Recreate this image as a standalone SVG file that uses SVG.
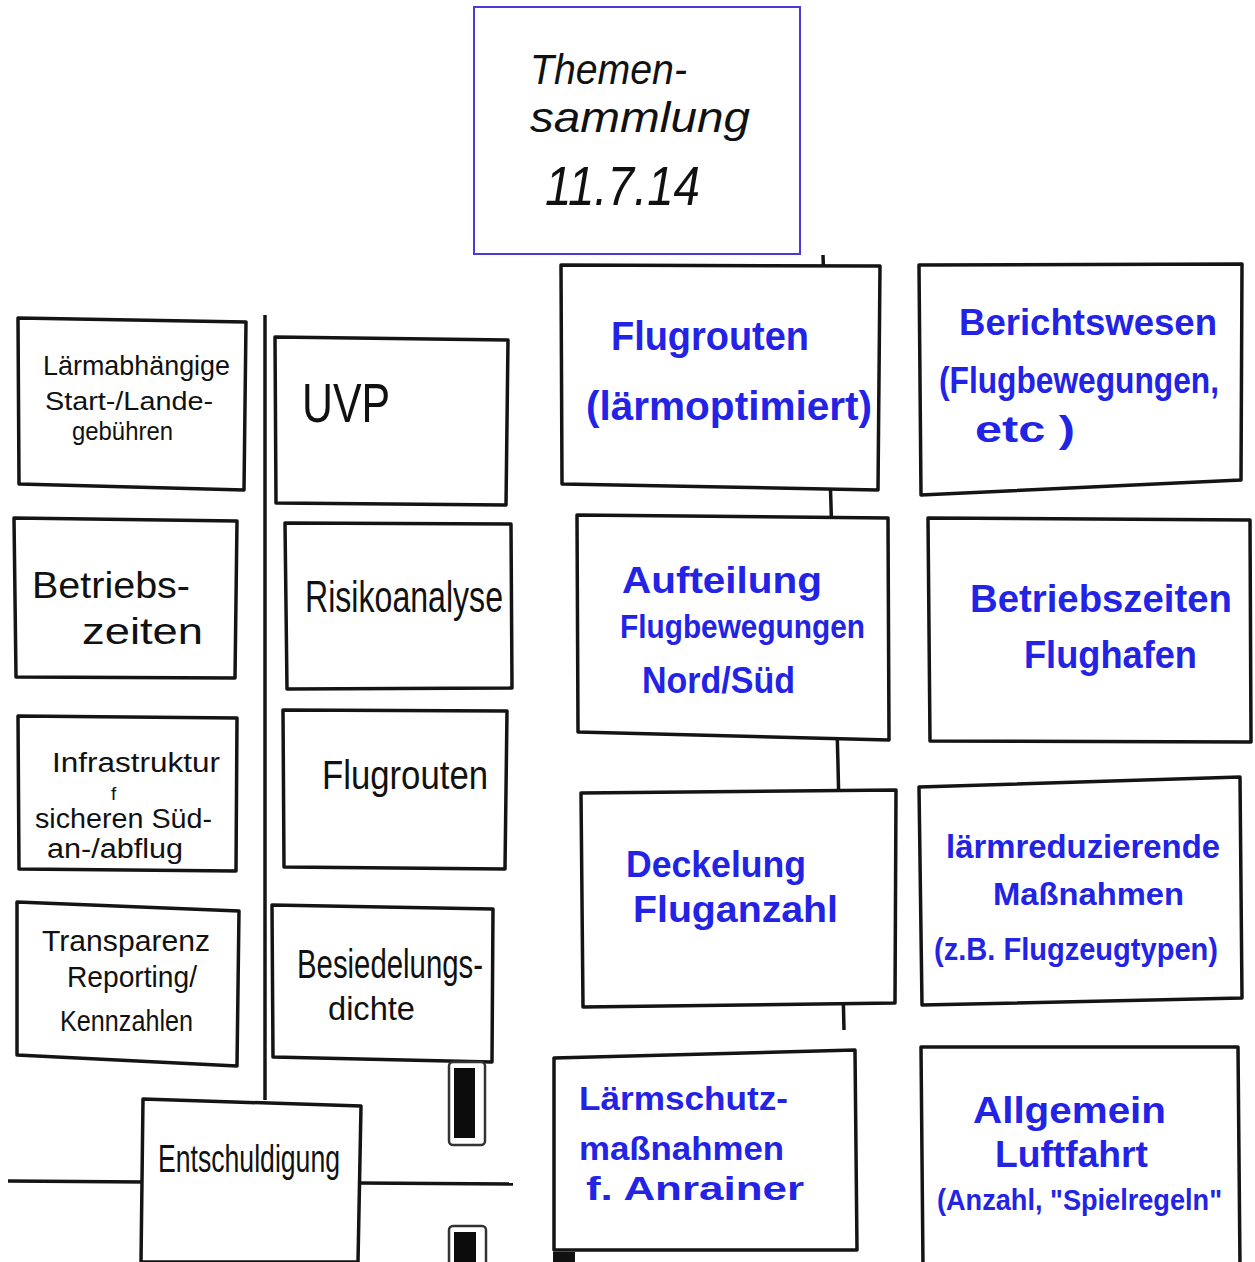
<svg xmlns="http://www.w3.org/2000/svg" width="1255" height="1262" viewBox="0 0 1255 1262">
<style>
.card{fill:#fff;stroke:#141414;stroke-width:3.5;stroke-linejoin:round}
.title{fill:#fff;stroke:#4a3bd8;stroke-width:2}
.con{fill:none;stroke:#141414;stroke-width:3.5}
.k{font-family:"Liberation Sans",Arial,sans-serif;fill:#111}
.b{font-family:"Liberation Sans",Arial,sans-serif;fill:#2323e6;font-weight:bold}
.clip{fill:#fff;stroke:#333;stroke-width:2.5}
</style>
<rect width="1255" height="1262" fill="#fff"/>
<g id="connectors">
<line class="con" x1="265" y1="315" x2="265" y2="1100"/>
<line class="con" x1="8" y1="1181" x2="145" y2="1182"/>
<line class="con" x1="358" y1="1183" x2="513" y2="1184"/>
<polyline class="con" points="823,255 831,505 838,765 844,1030"/>
</g>
<g id="title">
<rect class="title" x="474" y="7" width="326" height="247"/>
<text class="k" font-size="42" font-style="italic" x="530" y="84" textLength="157" lengthAdjust="spacingAndGlyphs">Themen-</text>
<text class="k" font-size="42" font-style="italic" x="530" y="132" textLength="220" lengthAdjust="spacingAndGlyphs">sammlung</text>
<text class="k" font-size="56" font-style="italic" x="545" y="205" textLength="155" lengthAdjust="spacingAndGlyphs">11.7.14</text>
</g>
<g id="n-laermabhaengige">
<polygon class="card" points="18,318 246,322 244,490 19,484"/>
<text class="k" font-size="28" x="43" y="375" textLength="187" lengthAdjust="spacingAndGlyphs">Lärmabhängige</text>
<text class="k" font-size="26" x="45" y="410" textLength="168" lengthAdjust="spacingAndGlyphs">Start-/Lande-</text>
<text class="k" font-size="26" x="72" y="440" textLength="101" lengthAdjust="spacingAndGlyphs">gebühren</text>
</g>
<g id="n-betriebszeiten">
<polygon class="card" points="14,518 237,521 235,678 16,677"/>
<text class="k" font-size="36" x="32" y="598" textLength="158" lengthAdjust="spacingAndGlyphs">Betriebs-</text>
<text class="k" font-size="36" x="82" y="644" textLength="121" lengthAdjust="spacingAndGlyphs">zeiten</text>
</g>
<g id="n-infrastruktur">
<polygon class="card" points="18,716 237,718 236,871 19,869"/>
<text class="k" font-size="27" x="52" y="772" textLength="168" lengthAdjust="spacingAndGlyphs">Infrastruktur</text>
<text class="k" font-size="19" x="111" y="800">f</text>
<text class="k" font-size="27" x="35" y="828" textLength="177" lengthAdjust="spacingAndGlyphs">sicheren Süd-</text>
<text class="k" font-size="27" x="47" y="858" textLength="136" lengthAdjust="spacingAndGlyphs">an-/abflug</text>
</g>
<g id="n-transparenz">
<polygon class="card" points="17,902 239,911 237,1066 17,1055"/>
<text class="k" font-size="30" x="42" y="951" textLength="168" lengthAdjust="spacingAndGlyphs">Transparenz</text>
<text class="k" font-size="30" x="67" y="987" textLength="130" lengthAdjust="spacingAndGlyphs">Reporting/</text>
<text class="k" font-size="30" x="60" y="1031" textLength="133" lengthAdjust="spacingAndGlyphs">Kennzahlen</text>
</g>
<g id="n-uvp">
<polygon class="card" points="275,337 508,340 506,505 276,503"/>
<text class="k" font-size="56" x="302" y="422" textLength="88" lengthAdjust="spacingAndGlyphs">UVP</text>
</g>
<g id="n-risikoanalyse">
<polygon class="card" points="285,523 511,524 512,688 287,689"/>
<text class="k" font-size="44" x="305" y="612" textLength="198" lengthAdjust="spacingAndGlyphs">Risikoanalyse</text>
</g>
<g id="n-flugrouten-links">
<polygon class="card" points="283,710 507,711 505,869 284,867"/>
<text class="k" font-size="40" x="322" y="789" textLength="166" lengthAdjust="spacingAndGlyphs">Flugrouten</text>
</g>
<g id="n-besiedelungsdichte">
<polygon class="card" points="272,905 493,909 492,1062 273,1057"/>
<text class="k" font-size="40" x="297" y="978" textLength="186" lengthAdjust="spacingAndGlyphs">Besiedelungs-</text>
<text class="k" font-size="34" x="328" y="1020" textLength="87" lengthAdjust="spacingAndGlyphs">dichte</text>
</g>
<g id="n-entschuldigung">
<polygon class="card" points="143,1099 361,1106 358,1262 141,1262"/>
<text class="k" font-size="38" x="158" y="1172" textLength="182" lengthAdjust="spacingAndGlyphs">Entschuldigung</text>
</g>
<g id="clips">
<rect class="clip" x="449" y="1062" width="36" height="83" rx="4"/>
<rect x="454" y="1068" width="21" height="70" fill="#0c0c0c"/>
<rect class="clip" x="449" y="1226" width="37" height="40" rx="4"/>
<rect x="454" y="1232" width="22" height="32" fill="#0c0c0c"/>
<rect x="553" y="1252" width="22" height="10" fill="#111"/>
</g>
<g id="n-flugrouten-laermoptimiert">
<polygon class="card" points="561,265 880,266 878,490 562,484"/>
<text class="b" font-size="40" x="611" y="350" textLength="198" lengthAdjust="spacingAndGlyphs">Flugrouten</text>
<text class="b" font-size="40" x="586" y="420" textLength="286" lengthAdjust="spacingAndGlyphs">(lärmoptimiert)</text>
</g>
<g id="n-berichtswesen">
<polygon class="card" points="919,265 1242,264 1241,480 921,495"/>
<text class="b" font-size="36" x="959" y="335" textLength="258" lengthAdjust="spacingAndGlyphs">Berichtswesen</text>
<text class="b" font-size="36" x="939" y="393" textLength="280" lengthAdjust="spacingAndGlyphs">(Flugbewegungen,</text>
<text class="b" font-size="36" x="975" y="442" textLength="100" lengthAdjust="spacingAndGlyphs">etc )</text>
</g>
<g id="n-aufteilung">
<polygon class="card" points="577,515 888,518 889,740 578,732"/>
<text class="b" font-size="36" x="622" y="593" textLength="200" lengthAdjust="spacingAndGlyphs">Aufteilung</text>
<text class="b" font-size="34" x="620" y="638" textLength="245" lengthAdjust="spacingAndGlyphs">Flugbewegungen</text>
<text class="b" font-size="36" x="642" y="693" textLength="153" lengthAdjust="spacingAndGlyphs">Nord/Süd</text>
</g>
<g id="n-betriebszeiten-flughafen">
<polygon class="card" points="928,518 1250,520 1251,742 930,741"/>
<text class="b" font-size="38" x="970" y="612" textLength="262" lengthAdjust="spacingAndGlyphs">Betriebszeiten</text>
<text class="b" font-size="38" x="1024" y="668" textLength="173" lengthAdjust="spacingAndGlyphs">Flughafen</text>
</g>
<g id="n-deckelung">
<polygon class="card" points="581,793 896,790 895,1003 583,1007"/>
<text class="b" font-size="36" x="626" y="877" textLength="180" lengthAdjust="spacingAndGlyphs">Deckelung</text>
<text class="b" font-size="36" x="633" y="922" textLength="205" lengthAdjust="spacingAndGlyphs">Fluganzahl</text>
</g>
<g id="n-laermreduzierende">
<polygon class="card" points="919,787 1240,777 1242,998 922,1005"/>
<text class="b" font-size="34" x="946" y="858" textLength="274" lengthAdjust="spacingAndGlyphs">lärmreduzierende</text>
<text class="b" font-size="32" x="993" y="905" textLength="191" lengthAdjust="spacingAndGlyphs">Maßnahmen</text>
<text class="b" font-size="32" x="934" y="960" textLength="284" lengthAdjust="spacingAndGlyphs">(z.B. Flugzeugtypen)</text>
</g>
<g id="n-laermschutz">
<polygon class="card" points="554,1058 855,1050 857,1250 554,1250"/>
<text class="b" font-size="34" x="579" y="1110" textLength="209" lengthAdjust="spacingAndGlyphs">Lärmschutz-</text>
<text class="b" font-size="34" x="579" y="1160" textLength="205" lengthAdjust="spacingAndGlyphs">maßnahmen</text>
<text class="b" font-size="34" x="586" y="1200" textLength="218" lengthAdjust="spacingAndGlyphs">f. Anrainer</text>
</g>
<g id="n-allgemein-luftfahrt">
<polygon class="card" points="921,1047 1238,1047 1240,1266 923,1266"/>
<text class="b" font-size="36" x="973" y="1123" textLength="193" lengthAdjust="spacingAndGlyphs">Allgemein</text>
<text class="b" font-size="36" x="995" y="1167" textLength="153" lengthAdjust="spacingAndGlyphs">Luftfahrt</text>
<text class="b" font-size="30" x="937" y="1210" textLength="285" lengthAdjust="spacingAndGlyphs">(Anzahl, "Spielregeln"</text>
</g>
</svg>
